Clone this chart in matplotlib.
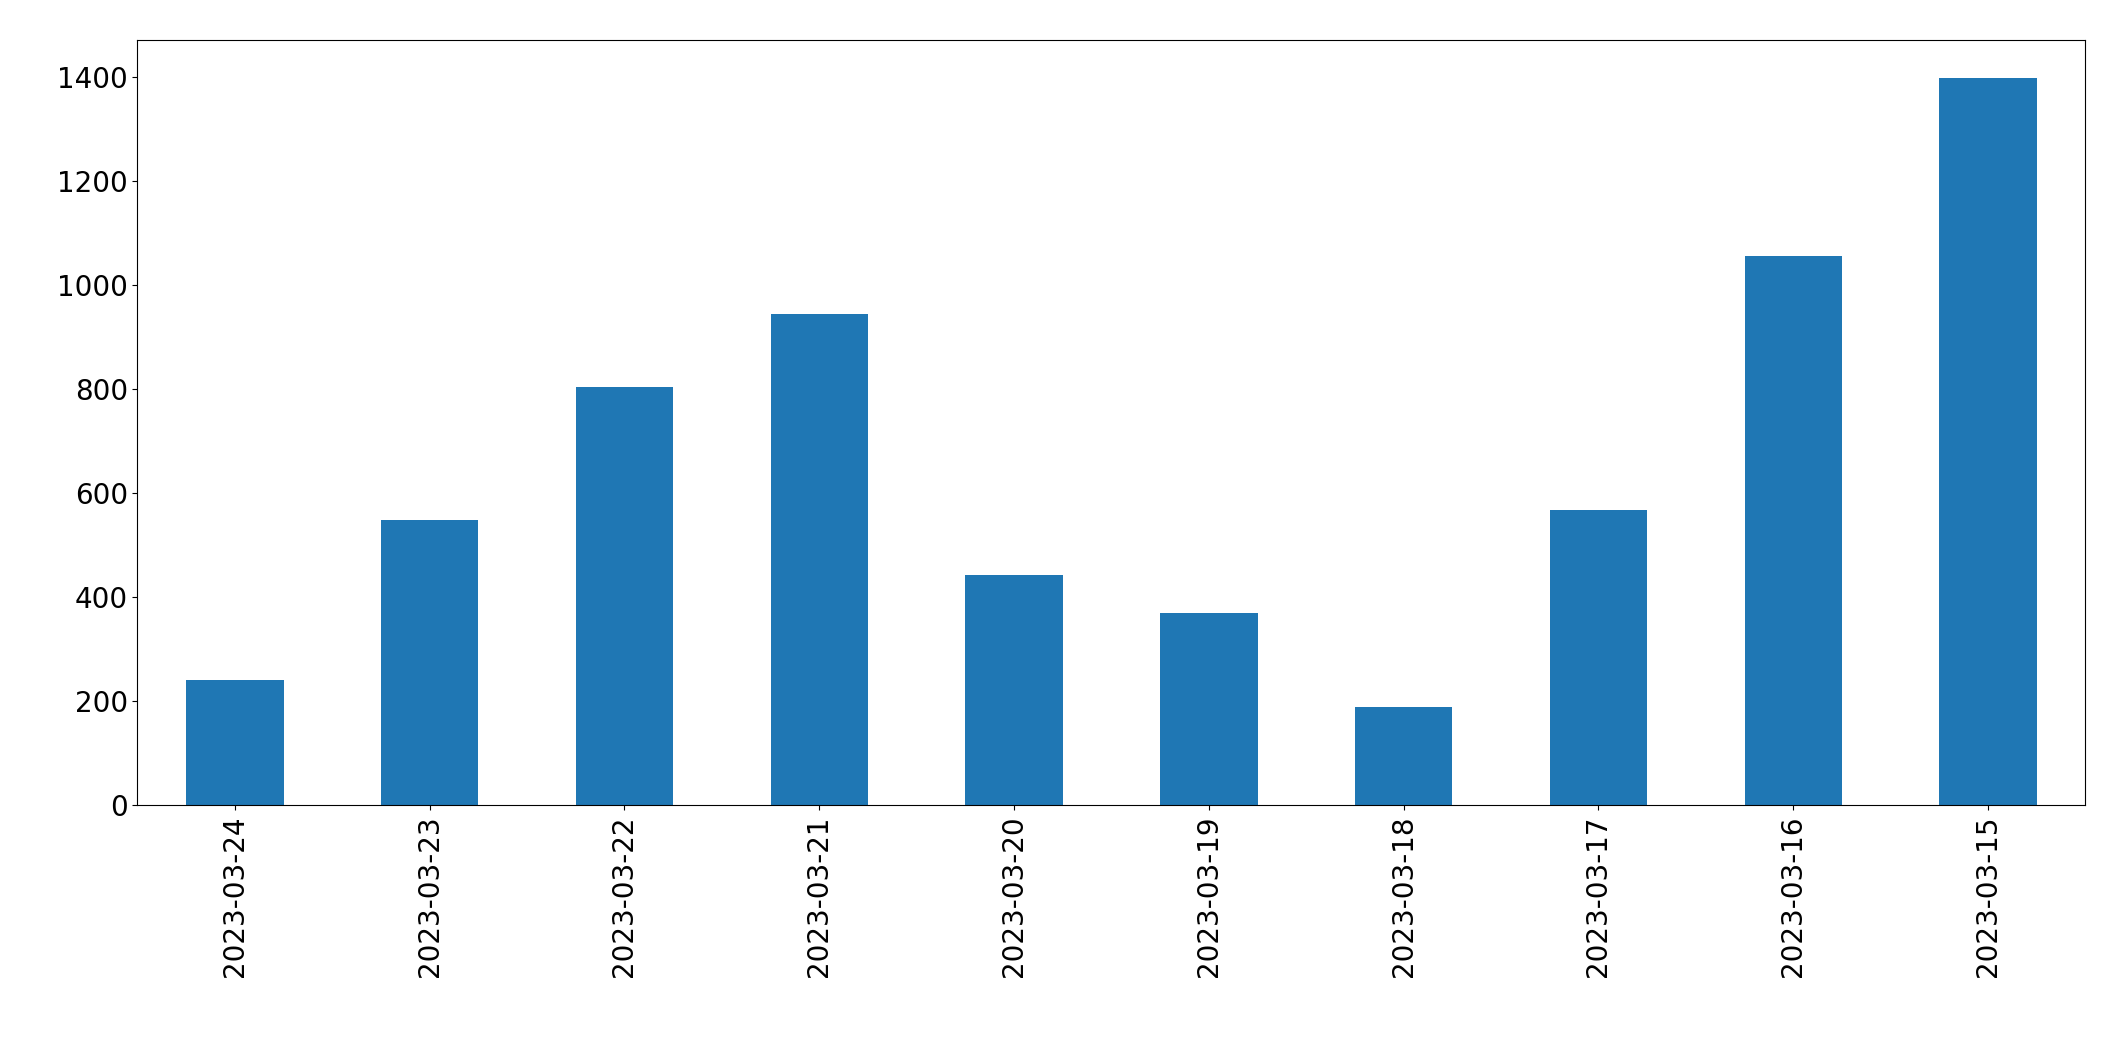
import matplotlib
matplotlib.use("Agg")
import matplotlib.pyplot as plt

dates = ["2023-03-24", "2023-03-23", "2023-03-22", "2023-03-21", "2023-03-20",
         "2023-03-19", "2023-03-18", "2023-03-17", "2023-03-16", "2023-03-15"]
counts = [240, 549, 804, 945, 443, 369, 188, 567, 1055, 1398]

fig = plt.figure(figsize=(21.15, 10.61), dpi=100)
ax = fig.add_axes([0.065, 0.241, 0.921, 0.721])
x = range(len(dates))
ax.bar(x, counts, width=0.5, color="#1f77b4")
ax.set_xlim(-0.5, len(dates) - 0.5)
ax.set_ylim(0, 1470)
ax.set_xticks(list(x))
ax.set_xticklabels(dates, rotation=90)
ax.tick_params(labelsize=20)
fig.savefig("out.png")
